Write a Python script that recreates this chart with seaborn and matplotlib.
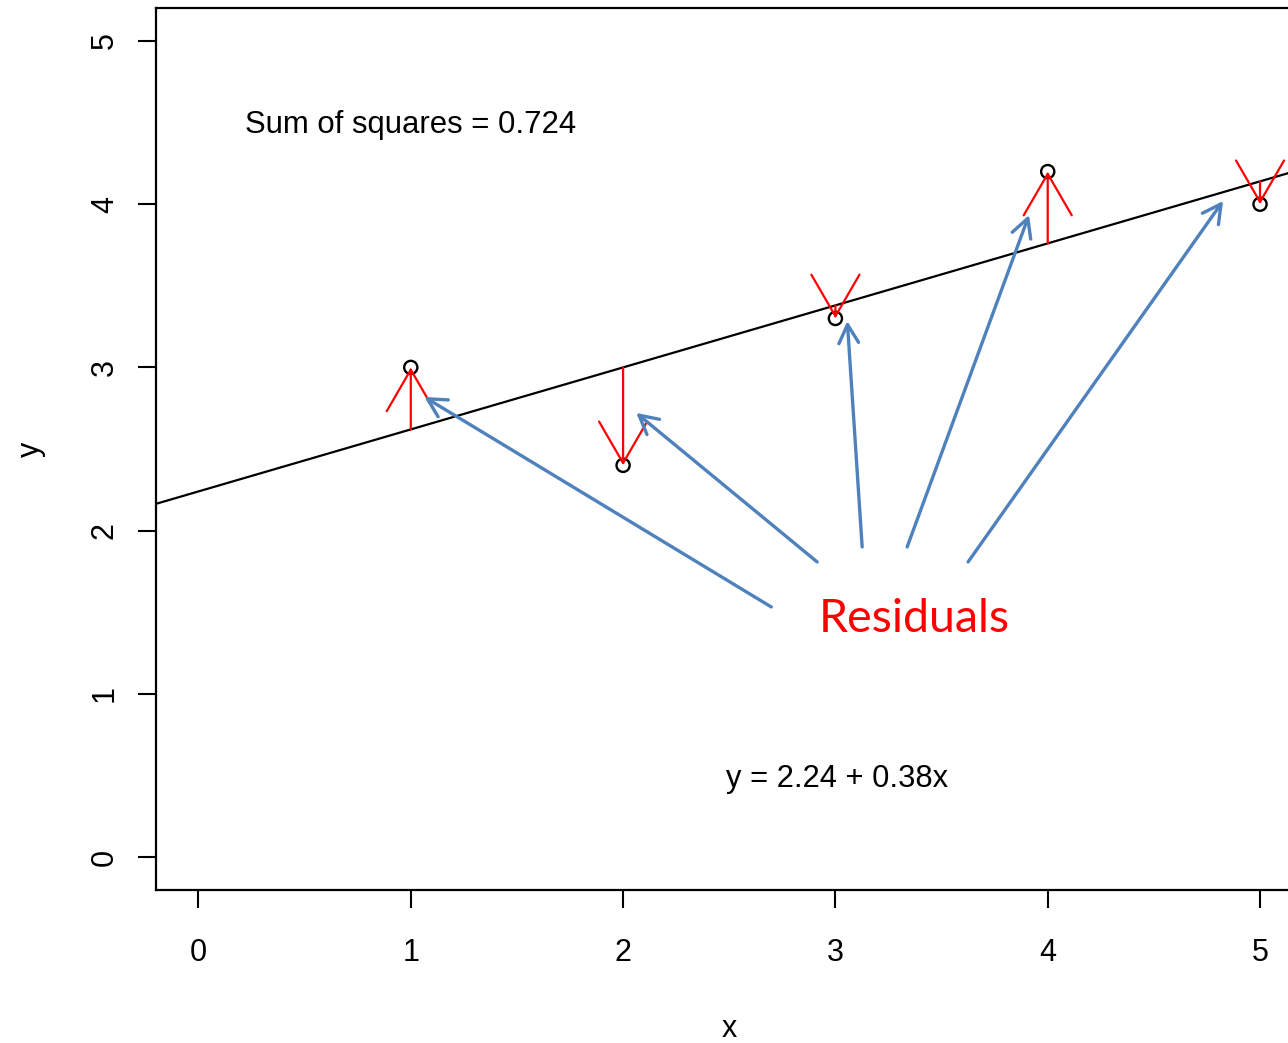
import numpy as np
import matplotlib
matplotlib.use("Agg")
import matplotlib.pyplot as plt
import seaborn as sns

# Observations
x_obs = [1, 2, 3, 4, 5]
y_obs = [3.0, 2.4, 3.3, 4.2, 4.0]

# Callout arrows: (start, end) in data coordinates, from the label to each residual
callout_starts = [(2.698, 1.532), (2.914, 1.808), (3.126, 1.900), (3.338, 1.900), (3.625, 1.808)]
callout_ends = [(1.064, 2.819), (2.062, 2.721), (3.056, 3.284), (3.912, 3.934), (4.826, 4.020)]

x_ticks = [0, 1, 2, 3, 4, 5]
y_ticks = [0, 1, 2, 3, 4, 5]

sns.set_style("white")
plt.rcParams["font.family"] = ["Liberation Sans", "DejaVu Sans"]
plt.rcParams["text.color"] = "black"
plt.rcParams["axes.labelcolor"] = "black"

BLUE = "#4F81BD"
RED = "#FF0000"

# Least-squares fit
slope, intercept = np.polyfit(x_obs, y_obs, 1)
fitted = intercept + slope * np.asarray(x_obs)
resid = np.asarray(y_obs) - fitted
ss = float(np.sum(resid ** 2))

fig = plt.figure(figsize=(12.88, 10.43), dpi=100)
ax = fig.add_axes([156 / 1288, 1 - 889.6 / 1043, (1302.5 - 156) / 1288, 881.2 / 1043])
ax.set_xlim(-0.2, 5.2)
ax.set_ylim(-0.2, 5.2)

# Fitted line across the full x range
sns.regplot(x=x_obs, y=y_obs, ax=ax, ci=None, scatter=False, truncate=False,
            line_kws=dict(color="black", lw=1.6, zorder=2))
ax.set_xlim(-0.2, 5.2)
ax.set_ylim(-0.2, 5.2)

# Open-circle points
sns.scatterplot(x=x_obs, y=y_obs, ax=ax, marker="o", color="none",
                edgecolor="black", linewidth=1.7, s=90, zorder=3)

# Residual arrows from the line to each point
for xi, yi, fi in zip(x_obs, y_obs, fitted):
    ax.annotate("", xy=(xi, yi), xytext=(xi, fi),
                arrowprops=dict(arrowstyle="->,head_length=29.9,head_width=17.3",
                                mutation_scale=1, color=RED, lw=1.6,
                                shrinkA=0, shrinkB=0), zorder=4)

# Callout arrows
for (sx, sy), (ex, ey) in zip(callout_starts, callout_ends):
    ax.annotate("", xy=(ex, ey), xytext=(sx, sy),
                arrowprops=dict(arrowstyle="->,head_length=13.3,head_width=7.1",
                                mutation_scale=1, color=BLUE, lw=2.4,
                                shrinkA=0, shrinkB=0), zorder=5)

ax.text(1.0, 4.436, f"Sum of squares = {ss:.3f}", ha="center", va="baseline", fontsize=22.4)
ax.text(3.008, 0.431, f"y = {intercept:.2f} + {slope:.2f}x", ha="center", va="baseline", fontsize=22.2)
ax.text(3.373, 1.379, "Residuals", ha="center", va="baseline", fontsize=33.6,
        color=RED, family=["Lato", "DejaVu Sans"])

# Axes styling
for sp in ax.spines.values():
    sp.set_visible(True)
    sp.set_color("black")
    sp.set_linewidth(1.6)
ax.set_xticks(x_ticks)
ax.set_yticks(y_ticks)
ax.tick_params(axis="both", direction="out", length=13, width=1.5, color="black",
               labelsize=22, labelcolor="black", bottom=True, left=True)
ax.tick_params(axis="x", pad=22)
ax.tick_params(axis="y", pad=13)
for lab in ax.get_yticklabels():
    lab.set_rotation(90)
    lab.set_verticalalignment("center")

ax.set_xlabel("x", fontsize=22)
ax.set_ylabel("y", fontsize=22)
ax.xaxis.set_label_coords(0.5, -0.1413)
ax.yaxis.set_label_coords(-0.096, 0.5)
ax.grid(False)

fig.savefig("out.png", dpi=100)
